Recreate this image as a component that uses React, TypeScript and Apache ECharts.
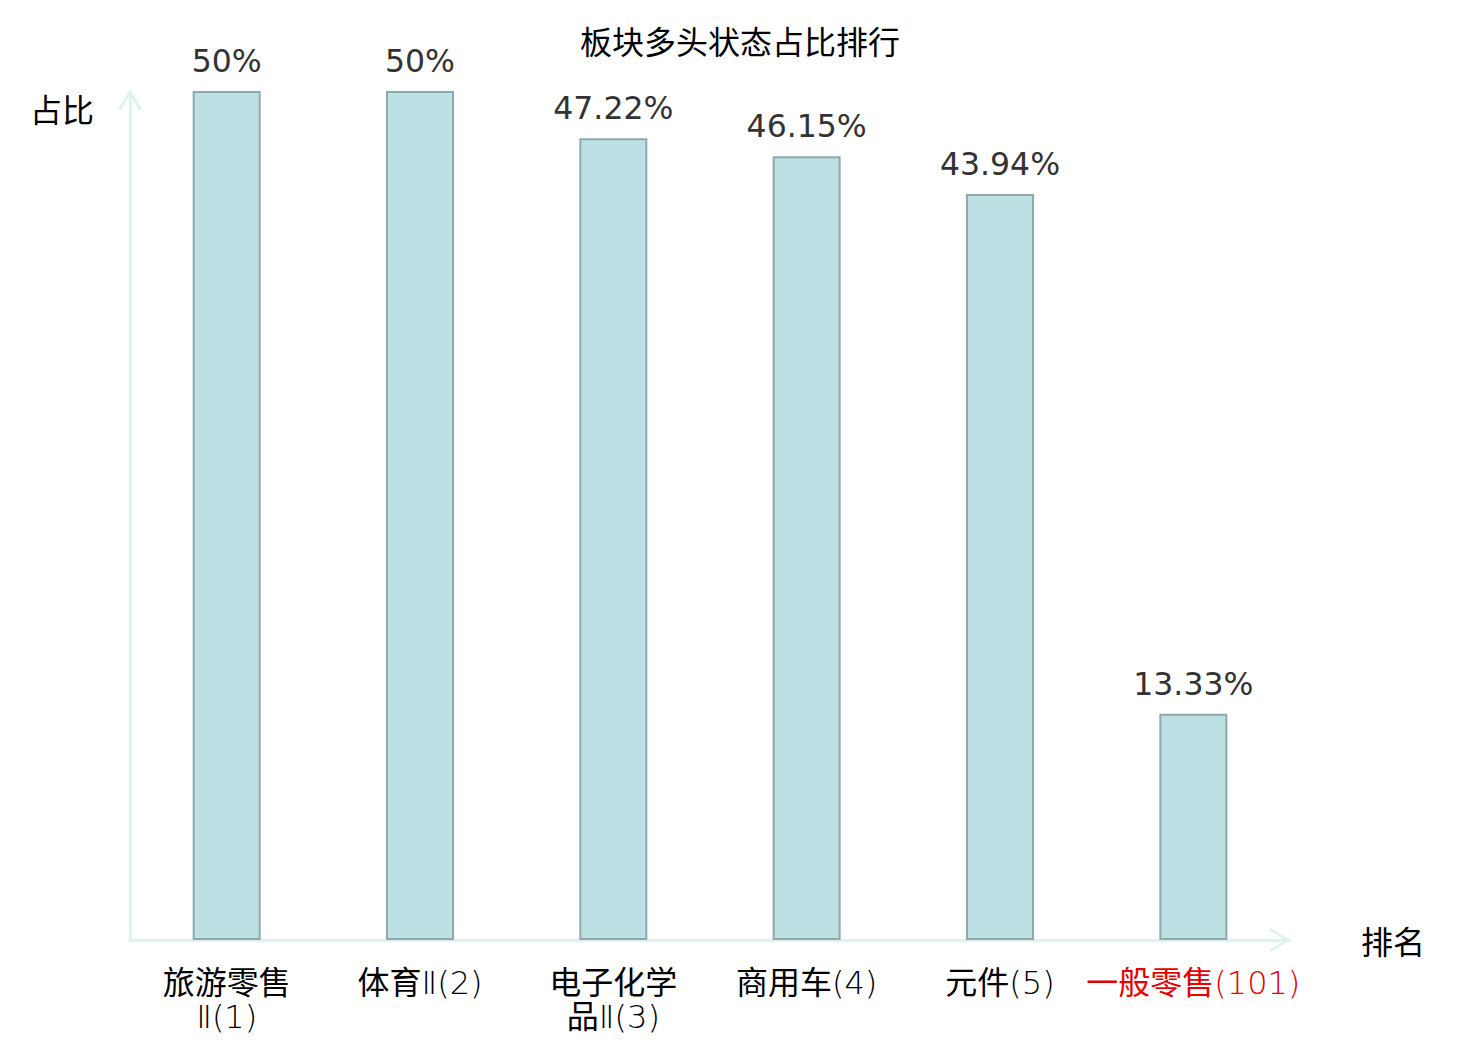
import React, { useEffect, useRef } from 'react';
import * as echarts from 'echarts';

const sectorNames = ['旅游零售Ⅱ', '体育Ⅱ', '电子化学品Ⅱ', '商用车', '元件', '一般零售'];
const ranks = [1, 2, 3, 4, 5, 101];
const bullRatio = [50, 50, 47.22, 46.15, 43.94, 13.33];
const highlightIndex = 5;
const titleText = '板块多头状态占比排行';
const xName = '排名';
const yName = '占比';

const categories = sectorNames.map((n, i) => `${n}(${ranks[i]})`);

const CJK = '"Noto Sans CJK SC", "Noto Sans", sans-serif';
const LABEL_FONT = '"DejaVu Sans", "Noto Sans CJK SC", sans-serif';
const ARROW = 'path://M12,0 L24,20 L21.6,21.44 L12,5.4 L2.4,21.44 L0,20 Z';
const AXIS_COLOR = '#dff2ef';
const RED = '#e60000';

function wrapLines(value: string): string[] {
  const idx = value.lastIndexOf('(');
  const name = idx >= 0 ? value.slice(0, idx) : value;
  const rank = idx >= 0 ? value.slice(idx) : '';
  const chunks: string[] = [];
  for (let i = 0; i < name.length; i += 4) chunks.push(name.slice(i, i + 4));
  if (chunks.length === 0) chunks.push('');
  chunks[chunks.length - 1] += rank;
  return chunks;
}

function richLine(line: string, red: boolean): string {
  const parts = line.match(/[\u4e00-\u9fff]+|[^\u4e00-\u9fff]+/g) || [];
  return parts
    .map((p) => {
      const isCjk = /[\u4e00-\u9fff]/.test(p);
      const key = (isCjk ? 'c' : 'd') + (red ? 'r' : '');
      return `{${key}|${p}}`;
    })
    .join('');
}

function formatCategory(value: string, index: number): string {
  const red = index === highlightIndex;
  return wrapLines(value).map((l) => richLine(l, red)).join('\n');
}

export default function App() {
  const ref = useRef<HTMLDivElement>(null);
  useEffect(() => {
    if (!ref.current) return;
    const chart = echarts.init(ref.current, undefined, { renderer: 'svg' });
    const base = { fontSize: 32, lineHeight: 34, fontFamily: LABEL_FONT };
    chart.setOption({
      animation: false,
      backgroundColor: '#ffffff',
      title: {
        text: titleText,
        left: 'center',
        top: 19,
        textStyle: { fontFamily: CJK, fontSize: 32, fontWeight: 'normal', color: '#000' },
      },
      grid: { left: 130, right: 190, top: 91, bottom: 100, outerBoundsMode: 'none' },
      xAxis: {
        type: 'category',
        data: categories,
        name: xName,
        nameLocation: 'end',
        nameGap: 71,
        nameTextStyle: { fontFamily: CJK, fontSize: 32, color: '#000' },
        axisLine: {
          show: true,
          symbol: ['none', ARROW],
          symbolSize: [24, 22],
          symbolOffset: [0, -10],
          lineStyle: { color: AXIS_COLOR, width: 3 },
        },
        axisTick: { show: false },
        axisLabel: {
          interval: 0,
          margin: 26,
          fontSize: 32,
          lineHeight: 34,
          fontFamily: LABEL_FONT,
          color: '#000',
          formatter: (v: string, i: number) => formatCategory(v, i),
          rich: {
            c: { ...base, fontWeight: 'normal', color: '#000' },
            d: { ...base, fontWeight: 200, color: '#000' },
            cr: { ...base, fontWeight: 'normal', color: RED },
            dr: { ...base, fontWeight: 200, color: RED },
          },
        },
      },
      yAxis: {
        type: 'value',
        min: 0,
        max: 50,
        name: yName,
        nameLocation: 'end',
        nameGap: -17,
        nameTextStyle: {
          fontFamily: CJK,
          fontSize: 32,
          color: '#000',
          align: 'right',
          verticalAlign: 'middle',
          padding: [0, 36, 0, 0],
        },
        axisLine: {
          show: true,
          symbol: ['none', ARROW],
          symbolSize: [24, 22],
          symbolOffset: [0, -9],
          lineStyle: { color: AXIS_COLOR, width: 3 },
        },
        axisTick: { show: false },
        axisLabel: { show: false },
        splitLine: { show: false },
      },
      series: [
        {
          type: 'bar',
          data: bullRatio,
          barWidth: 68,
          itemStyle: { color: '#bce0e3', borderColor: '#8ea9aa', borderWidth: 2 },
          label: {
            show: true,
            position: 'top',
            distance: 14,
            formatter: (p: any) => `${p.value}%`,
            fontSize: 31.5,
            color: '#333',
            fontFamily: '"DejaVu Sans", sans-serif',
          },
        },
      ],
    });
    return () => chart.dispose();
  }, []);
  return <div ref={ref} style={{ position: 'fixed', left: 0, top: 0, width: 1480, height: 1040 }} />;
}
